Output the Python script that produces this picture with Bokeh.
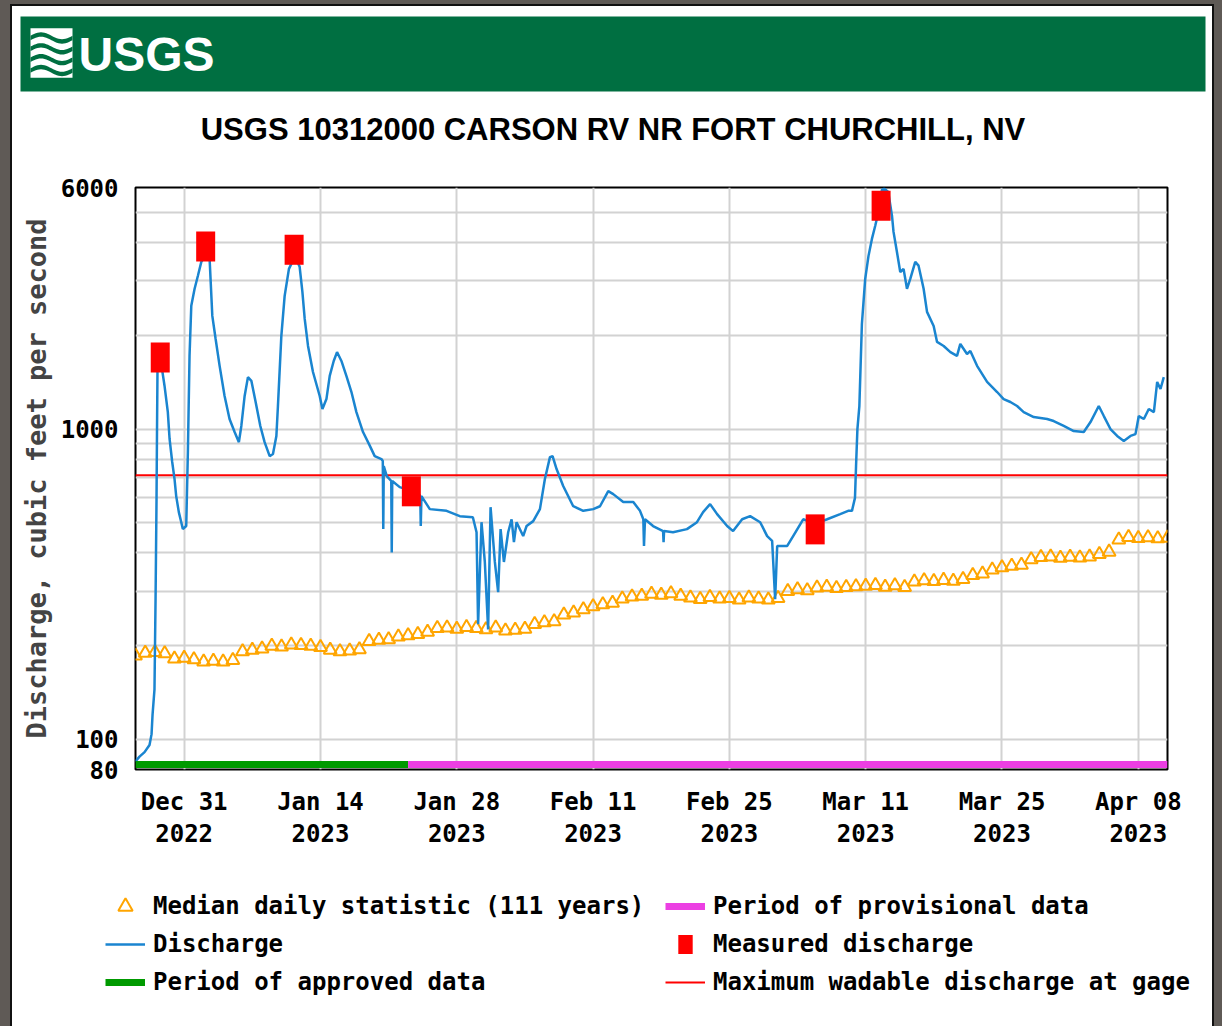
import numpy as np
import pandas as pd
from bokeh.plotting import figure
from bokeh.models import (FixedTicker, DatetimeTickFormatter, PrintfTickFormatter, Legend,
                          LegendItem, Range1d, Label, Title, ColumnDataSource)
from bokeh.layouts import column
from bokeh.embed import file_html
from bokeh.resources import INLINE

# ---------------- data ----------------
start_date = "2022-12-26"
end_date = "2023-04-11"
tick_dates = ["2022-12-31", "2023-01-14", "2023-01-28", "2023-02-11",
              "2023-02-25", "2023-03-11", "2023-03-25", "2023-04-08"]
y_tick_values = [80, 100, 1000, 6000]
y_grid_values = [100, 200, 300, 400, 500, 600, 700, 800, 900,
                 1000, 2000, 3000, 4000, 5000, 6000]

# median daily statistic (111 years), one value per day from 2022-12-26
median_cfs = [186, 190, 191, 189, 182, 183, 181, 178, 179, 178, 180, 192, 194, 196,
              200, 199, 202, 201, 200, 198, 194, 192, 193, 195, 207, 209, 210, 214,
              216, 218, 222, 228, 229, 227, 230, 228, 226, 229, 224, 225, 227, 235,
              238, 240, 252, 256, 262, 268, 272, 275, 284, 288, 290, 294, 292, 295,
              290, 286, 283, 287, 284, 285, 282, 286, 284, 282, 285, 300, 304, 302,
              308, 310, 307, 309, 311, 312, 314, 310, 313, 309, 322, 325, 323, 326,
              324, 328, 338, 342, 352, 358, 362, 365, 380, 386, 388, 384, 387, 385,
              388, 395, 402, 440, 448, 445, 447, 444, 446]

# discharge: days since 2022-12-26 00:00 and cfs
q_days = [0.00, 0.41, 0.93, 1.44, 1.65, 1.75, 1.95, 2.06, 2.16, 2.21, 2.26, 2.36, 2.67, 2.98,
          3.32, 3.50, 3.77, 4.01, 4.18, 4.45, 4.70, 4.86, 5.21, 5.38, 5.55, 5.73, 6.07, 6.41,
          6.76, 7.09, 7.40, 7.61, 7.89, 8.23, 8.64, 9.15, 9.66, 10.18, 10.62, 10.87, 11.21,
          11.55, 11.90, 12.34, 12.82, 13.26, 13.78, 14.12, 14.47, 14.63, 14.98, 15.32, 15.76,
          16.11, 16.52, 16.86, 17.14, 17.38, 17.72, 18.23, 18.92, 19.20, 19.61, 19.95, 20.36,
          20.70, 21.15, 21.66, 22.18, 22.69, 23.37, 24.06, 24.57, 25.26, 25.40, 25.45, 25.50,
          25.81, 26.27, 26.32, 26.37, 27.14, 27.76, 28.69, 29.25, 29.30, 29.37, 30.23, 31.95,
          33.31, 34.65, 35.03, 35.19, 35.54, 35.88, 36.22, 36.47, 36.91, 37.25, 37.50, 37.84,
          38.28, 38.63, 38.87, 39.14, 39.82, 40.17, 40.85, 41.54, 42.05, 42.57, 42.84, 43.25,
          43.93, 44.96, 45.99, 47.02, 47.71, 48.56, 49.07, 50.10, 51.13, 51.82, 52.16, 52.23,
          52.33, 53.16, 54.19, 54.24, 54.29, 55.21, 56.64, 57.67, 58.30, 59.02, 59.74, 60.77,
          61.38, 62.31, 63.13, 64.16, 64.88, 65.39, 65.70, 65.91, 66.94, 67.55, 68.58, 69.81,
          71.04, 72.38, 73.20, 73.59, 73.90, 74.01, 74.15, 74.35, 74.61, 74.95, 75.29, 75.64,
          75.98, 76.32, 76.67, 76.91, 77.32, 77.70, 77.86, 78.21, 78.55, 78.89, 79.24, 79.58,
          80.09, 80.43, 80.95, 81.30, 81.98, 82.33, 83.01, 83.70, 84.38, 84.72, 85.41, 85.75,
          86.44, 87.47, 88.50, 89.17, 89.86, 90.55, 91.23, 92.26, 93.64, 94.31, 95.34, 96.37,
          97.40, 98.09, 98.94, 99.46, 100.14, 100.83, 101.51, 102.20, 102.71, 103.05, 103.57,
          104.08, 104.60, 104.94, 105.28, 105.62]
q_cfs = [85, 88, 91, 96, 104, 120, 145, 283, 595, 1000, 1560, 1585, 1600, 1379,
         1134, 929, 783, 690, 608, 540, 501, 476, 487, 843, 1720, 2497, 2830, 3117,
         3455, 3590, 3650, 3540, 2315, 1950, 1598, 1278, 1077, 978, 907, 1023, 1278,
         1470, 1430, 1222, 1023, 907, 818, 831, 950, 1186, 1995, 2686, 3280,
         3455, 3520, 3330, 2770, 2264, 1852, 1527, 1278, 1160, 1249, 1483, 1657,
         1770, 1657, 1483, 1316, 1134, 978, 884, 818, 800, 789, 476, 760,
         705, 680, 400, 680, 650, 640, 625, 610, 487, 608, 552, 545,
         524, 520, 465, 235, 501, 373, 226, 560, 373, 298, 476, 373,
         465, 512, 432, 501, 452, 487, 505, 552, 690, 812, 818, 743,
         655, 564, 545, 552, 564, 631, 617, 582, 582, 545, 512, 420,
         512, 487, 469, 432, 469, 465, 476, 501, 540, 573, 532, 487,
         469, 512, 524, 501, 452, 436, 283, 420, 420, 452, 512, 495,
         512, 532, 545, 545, 600, 760, 1000, 1186, 2180, 3046, 3613, 4098,
         4520, 5017, 5900, 5950, 5800, 4866, 4316, 3720, 3205, 3280, 2830, 3046,
         3455, 3360, 2830, 2385, 2148, 1908, 1852, 1770, 1720, 1880, 1745, 1785,
         1598, 1418, 1316, 1249, 1222, 1186, 1134, 1093, 1077, 1061, 1023, 985,
         978, 1053, 1186, 1101, 1000, 950, 915, 950, 963, 1101, 1077,
         1160, 1134, 1418, 1346, 1470]

meas_times = ["2022-12-28 13:00", "2023-01-02 05:00", "2023-01-11 07:00",
              "2023-01-23 08:00", "2023-03-05 19:30", "2023-03-12 14:00"]
meas_cfs = [1700, 3870, 3780, 630, 475, 5240]

approved_period = ["2022-12-26", "2023-01-23"]
provisional_period = ["2023-01-23", "2023-04-11"]
max_wadable_cfs = 710

title_text = "USGS 10312000 CARSON RV NR FORT CHURCHILL, NV"
legend_labels = ["Median daily statistic (111 years)", "Discharge",
                 "Period of approved data", "Period of provisional data",
                 "Measured discharge", "Maximum wadable discharge at gage"]

# ---------------- styles ----------------
FW = 1200                    # width of each figure (page is 1222 with the dark frame)
HDR_H, MAIN_H, LEG_H = 159, 705, 156
USGS_GREEN = "#006f41"
FRAME_BG = "#5f5a56"
MONO = "DejaVu Sans Mono"
SANS = "Liberation Sans"
BLUE = "#1a85d0"
ORANGE = "#ffa500"
APPROVED = "#009a00"
PROVISIONAL = "#ec3fe3"
BAR_Y = 83

med_style = dict(marker="triangle", size=13, fill_color=None, line_color=ORANGE, line_width=2)
q_style = dict(line_color=BLUE, line_width=2.5)
bar_style = dict(line_width=7)
meas_style = dict(marker="dash", size=30, angle=np.pi / 2, line_color="red", line_width=19)
max_style = dict(line_color="red", line_width=2)

t0 = pd.Timestamp(start_date)
t1 = pd.Timestamp(end_date)
src_med = ColumnDataSource(dict(x=pd.date_range(start_date, periods=len(median_cfs), freq="D"),
                                y=median_cfs))
src_q = ColumnDataSource(dict(x=t0 + pd.to_timedelta(q_days, unit="D"), y=q_cfs))
src_meas = ColumnDataSource(dict(x=pd.to_datetime(meas_times), y=meas_cfs))
src_appr = ColumnDataSource(dict(x=pd.to_datetime(approved_period), y=[BAR_Y, BAR_Y]))
src_prov = ColumnDataSource(dict(x=pd.to_datetime(provisional_period), y=[BAR_Y, BAR_Y]))
src_max = ColumnDataSource(dict(x=[t0, t1], y=[max_wadable_cfs, max_wadable_cfs]))


def draw_series(fig):
    rs = {}
    rs["med"] = fig.scatter("x", "y", source=src_med, **med_style)
    rs["max"] = fig.line("x", "y", source=src_max, **max_style)
    rs["q"] = fig.line("x", "y", source=src_q, **q_style)
    rs["appr"] = fig.line("x", "y", source=src_appr, line_color=APPROVED, **bar_style)
    rs["prov"] = fig.line("x", "y", source=src_prov, line_color=PROVISIONAL, **bar_style)
    rs["meas"] = fig.scatter("x", "y", source=src_meas, **meas_style)
    return rs


# ---------------- header (USGS banner + title) ----------------
hdr = figure(width=FW, height=HDR_H, x_range=(0, 1185), y_range=(0, 76),
             toolbar_location=None, output_backend="svg",
             x_axis_location=None, y_axis_location=None,
             min_border_left=8, min_border_right=7, min_border_top=10, min_border_bottom=73,
             background_fill_color=USGS_GREEN, border_fill_color="white",
             outline_line_color=None)
hdr.frame_align = False
hdr.grid.visible = False
hdr.quad(left=10, right=52, bottom=14, top=64, fill_color="white", line_color=None)
wx = np.linspace(10, 52, 25)
for k in range(4):
    base = 19 + 11 * k + 3.5 * np.sin((wx - 10) / 42 * 2 * np.pi)
    hdr.varea(x=wx, y1=base, y2=base + 4.5, fill_color=USGS_GREEN)
hdr.add_layout(Label(x=58, y=38, text="USGS", text_color="white", text_font=SANS,
                     text_font_style="bold", text_font_size="48px",
                     text_baseline="middle"))
hdr.add_layout(Title(text=title_text, align="center", text_font=SANS,
                     text_font_style="bold", text_font_size="31px",
                     text_color="black", standoff=37), "below")

# ---------------- main chart ----------------
p = figure(width=FW, height=MAIN_H, x_axis_type="datetime", y_axis_type="log",
           x_range=Range1d(t0, t1), y_range=Range1d(80, 6000),
           toolbar_location=None, output_backend="svg",
           min_border_left=123, min_border_right=45, min_border_top=22, min_border_bottom=101,
           outline_line_color="black", outline_line_width=2,
           border_fill_color="white", background_fill_color="white")
p.frame_align = False

xt = FixedTicker(ticks=[pd.Timestamp(d).value / 1e6 for d in tick_dates])
fmt = "%b %d\n%Y"
xa = p.xaxis[0]
xa.ticker = xt
xa.formatter = DatetimeTickFormatter(microseconds=fmt, milliseconds=fmt, seconds=fmt,
                                     minsec=fmt, minutes=fmt, hourmin=fmt, hours=fmt,
                                     days=fmt, months=fmt, years=fmt)
ya = p.yaxis[0]
ya.ticker = FixedTicker(ticks=y_tick_values)
ya.formatter = PrintfTickFormatter(format="%d")
ya.axis_label = "Discharge, cubic feet per second"

for ax in (xa, ya):
    ax.axis_line_color = None
    ax.major_tick_line_color = None
    ax.minor_tick_line_color = None
    ax.major_label_text_font = MONO
    ax.major_label_text_font_style = "bold"
    ax.major_label_text_font_size = "24px"
    ax.major_label_text_color = "black"
xa.major_label_standoff = 12
xa.major_label_text_line_height = 1.15
ya.major_label_standoff = 11
ya.axis_label_text_font = MONO
ya.axis_label_text_font_style = "bold"
ya.axis_label_text_font_size = "27px"
ya.axis_label_standoff = 6

p.xgrid.ticker = xt
p.ygrid.ticker = FixedTicker(ticks=y_grid_values)
p.grid.grid_line_color = "#d2d2d2"
p.grid.grid_line_width = 2

draw_series(p)

# ---------------- legend strip: same sources, drawn outside its visible range ----------------
lf = figure(width=FW, height=LEG_H, x_range=(0, 1), y_range=(0, 1),
            toolbar_location=None, output_backend="svg",
            x_axis_location=None, y_axis_location=None,
            min_border_left=0, min_border_right=0, min_border_top=0, min_border_bottom=0,
            outline_line_color=None, border_fill_color="white", background_fill_color="white")
lf.frame_align = False
lf.grid.visible = False
lr = draw_series(lf)
order = ["med", "q", "appr", "prov", "meas", "max"]
legend = Legend(items=[LegendItem(label=lab, renderers=[lr[k]])
                       for lab, k in zip(legend_labels, order)],
                orientation="vertical", ncols=2, location=(93, 26),
                glyph_width=40, glyph_height=36, label_height=36, label_width=510,
                label_standoff=8, spacing=2, padding=0, margin=0,
                border_line_color=None, background_fill_alpha=0,
                label_text_font=MONO, label_text_font_style="bold",
                label_text_font_size="24px", label_text_color="black")
lf.add_layout(legend)

inner = column(hdr, p, lf, spacing=0, margin=(6, 10, 0, 12),
               styles={"background-color": "white", "outline": "2px solid #111"})
page = column(inner, spacing=0, styles={"background-color": FRAME_BG})
open("out.html", "w").write(file_html(page, INLINE))
